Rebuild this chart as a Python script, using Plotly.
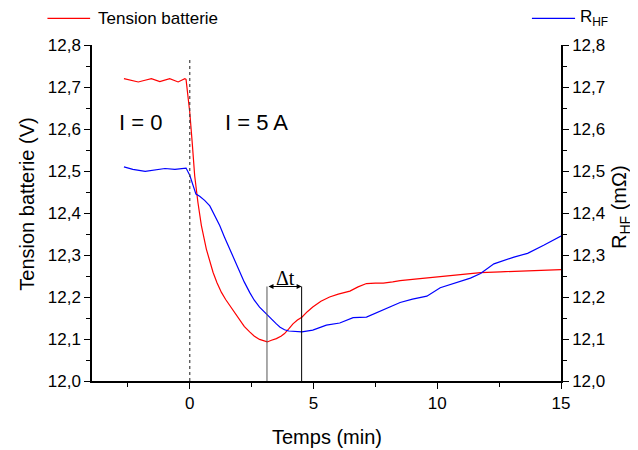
import plotly.graph_objects as go

# Battery voltage (red)
t_red = [-2.66, -2.42, -2.08, -1.81, -1.55, -1.21, -0.81, -0.47, -0.2, -0.15, 0.0, 0.1, 0.2, 0.33, 0.47,
         0.67, 0.8, 0.94, 1.1, 1.28, 1.45, 1.61, 1.8, 2.02, 2.2, 2.42, 2.6, 2.82, 3.0, 3.13, 3.3, 3.5,
         3.7, 3.83, 4.0, 4.17, 4.35, 4.53, 4.75, 4.97, 5.3, 5.65, 6.0, 6.47, 6.8, 7.14, 7.5, 7.82, 8.2,
         8.5, 9.2, 9.85, 10.5, 11.21, 11.75, 12.56, 13.2, 13.92, 14.5, 15.0]
v_red = [12.72, 12.716, 12.712, 12.716, 12.72, 12.713, 12.72, 12.712, 12.72, 12.718, 12.64, 12.567,
         12.488, 12.425, 12.37, 12.314, 12.285, 12.259, 12.234, 12.211, 12.194, 12.18, 12.162, 12.144,
         12.13, 12.117, 12.107, 12.099, 12.095, 12.093, 12.097, 12.101, 12.107, 12.113, 12.124, 12.136,
         12.145, 12.152, 12.165, 12.176, 12.19, 12.2, 12.207, 12.214, 12.224, 12.232, 12.233, 12.233,
         12.236, 12.239, 12.243, 12.247, 12.251, 12.255, 12.258, 12.26, 12.261, 12.262, 12.264, 12.265]

# R_HF (blue)
t_blue = [-2.66, -2.3, -1.8, -1.4, -1.0, -0.6, -0.15, 0.0, 0.15, 0.25, 0.4, 0.6, 0.81, 1.0, 1.21, 1.4,
          1.61, 1.8, 2.02, 2.2, 2.42, 2.6, 2.82, 3.0, 3.13, 3.3, 3.5, 3.65, 3.83, 4.0, 4.17, 4.53, 4.97,
          5.52, 6.06, 6.6, 7.14, 7.82, 8.5, 9.0, 9.58, 10.12, 10.94, 11.34, 11.75, 12.29, 13.1, 13.65,
          14.3, 15.0]
r_blue = [12.51, 12.504, 12.499, 12.503, 12.506, 12.504, 12.507, 12.49, 12.46, 12.445, 12.44, 12.43,
          12.417, 12.396, 12.37, 12.343, 12.314, 12.287, 12.259, 12.236, 12.211, 12.193, 12.176, 12.165,
          12.156, 12.146, 12.136, 12.128, 12.122, 12.119, 12.118, 12.117, 12.121, 12.133, 12.138, 12.151,
          12.152, 12.17, 12.187, 12.195, 12.202, 12.222, 12.237, 12.245, 12.256, 12.279, 12.295, 12.304,
          12.323, 12.345]

dt_start = 3.12
dt_end = 4.52
dt_top = 12.225
switch_time = 0.0
switch_top = 12.77

FONT = "Arial"
SERIF = "Times New Roman"

fig = go.Figure()
fig.add_trace(go.Scatter(x=t_red, y=v_red, mode="lines", name="Tension batterie",
                         line=dict(color="#ff0000", width=1.2), showlegend=False))
fig.add_trace(go.Scatter(x=t_blue, y=r_blue, mode="lines", name="R<sub>HF</sub>",
                         line=dict(color="#0000ff", width=1.2), yaxis="y2", showlegend=False))

# manual legend (paper coordinates)
leg_y = 1.079
fig.add_shape(type="line", xref="paper", yref="paper", x0=-0.095, x1=-0.004, y0=leg_y, y1=leg_y,
              line=dict(color="#ff0000", width=1.2))
fig.add_annotation(xref="paper", yref="paper", x=0.008, y=leg_y, xanchor="left", yanchor="middle",
                   text="Tension batterie", showarrow=False, font=dict(family=FONT, size=17, color="black"))
fig.add_shape(type="line", xref="paper", yref="paper", x0=0.938, x1=1.03, y0=leg_y, y1=leg_y,
              line=dict(color="#0000ff", width=1.2))
fig.add_annotation(xref="paper", yref="paper", x=1.037, y=leg_y, xanchor="left", yanchor="middle",
                   text="R<sub>HF</sub>", showarrow=False, font=dict(family=FONT, size=17, color="black"))

# axis titles
title_font = dict(family=FONT, size=20, color="black")
fig.add_annotation(xref="paper", yref="paper", x=0.501, y=-0.167, text="Temps (min)", showarrow=False,
                   font=title_font, xanchor="center", yanchor="middle")
fig.add_annotation(xref="paper", yref="paper", x=-0.139, y=0.527, text="Tension batterie (V)",
                   showarrow=False, font=title_font, textangle=-90, xanchor="center", yanchor="middle")
fig.add_annotation(xref="paper", yref="paper", x=1.128, y=0.518, text="R<sub>HF</sub> (mΩ)",
                   showarrow=False, font=title_font, textangle=-90, xanchor="center", yanchor="middle")

# dotted line at current switch
fig.add_shape(type="line", x0=switch_time, x1=switch_time, y0=12.0, y1=switch_top, xref="x", yref="y",
              line=dict(color="#444444", width=1.2, dash="dot"))
# delta t markers
for xv, col in [(dt_start, "#555555"), (dt_end, "#000000")]:
    fig.add_shape(type="line", x0=xv, x1=xv, y0=12.0, y1=dt_top, xref="x", yref="y",
                  line=dict(color=col, width=1))
fig.add_annotation(x=dt_end, y=dt_top, ax=dt_start, ay=dt_top, xref="x", yref="y", axref="x", ayref="y",
                   text="", showarrow=True, arrowhead=2, arrowside="end+start", arrowsize=1,
                   arrowwidth=1, arrowcolor="black", startarrowhead=2)
fig.add_annotation(x=3.86, y=12.2445, text="Δt", showarrow=False,
                   font=dict(family=SERIF, size=20, color="black"), xref="x", yref="y")
fig.add_annotation(x=-2.0, y=12.615, text="I = 0", showarrow=False,
                   font=dict(family=FONT, size=22, color="black"), xref="x", yref="y")
fig.add_annotation(x=2.69, y=12.615, text="I = 5 A", showarrow=False,
                   font=dict(family=FONT, size=22, color="black"), xref="x", yref="y")

tick_font = dict(family=FONT, size=17, color="black")

fig.update_layout(
    width=630, height=442,
    margin=dict(l=84, r=77, t=37, b=69),
    paper_bgcolor="white", plot_bgcolor="white",
    separators=",.",
    font=dict(family=FONT, color="black"),
    showlegend=False,
    xaxis=dict(range=[-3.95, 15], tickvals=[0, 5, 10, 15], ticks="outside", ticklen=6, tickwidth=1.2,
               tickcolor="black", showline=True, linecolor="black", linewidth=1.5, showgrid=False,
               zeroline=False, tickfont=tick_font, automargin=False,
               minor=dict(tickvals=[-2.5, 2.5, 7.5, 12.5], ticks="outside", ticklen=4, tickcolor="black")),
    yaxis=dict(range=[12.0, 12.8], dtick=0.1, tickformat=".1f", ticks="outside", ticklen=6, tickwidth=1.2,
               tickcolor="black", showline=True, linecolor="black", linewidth=1.5, showgrid=False,
               zeroline=False, tickfont=tick_font, automargin=False,
               minor=dict(dtick=0.05, ticks="outside", ticklen=4, tickcolor="black")),
    yaxis2=dict(range=[12.0, 12.8], dtick=0.1, tickformat=".1f", ticks="outside", ticklen=6, tickwidth=1.2,
                tickcolor="black", showline=True, linecolor="black", linewidth=1.5, showgrid=False,
                zeroline=False, tickfont=tick_font, overlaying="y", side="right", automargin=False,
                minor=dict(dtick=0.05, ticks="outside", ticklen=4, tickcolor="black")),
)

fig.write_html("out.html")
